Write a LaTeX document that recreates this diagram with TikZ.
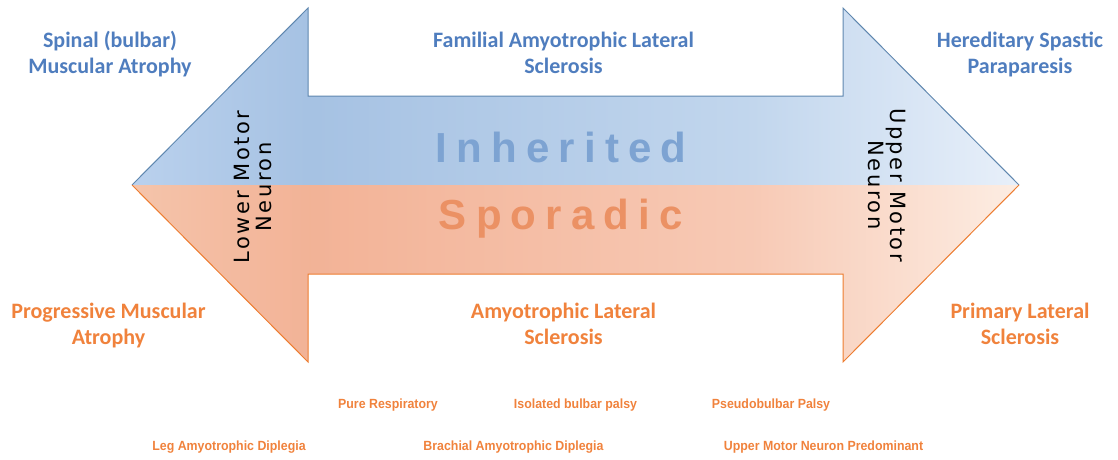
\documentclass[tikz,border=0pt]{standalone}
\usepackage{fontspec}
\setmainfont{Carlito}
\newfontfamily\rotfont[LetterSpace=12]{DejaVu Sans}
\newfontfamily\bigfont[LetterSpace=22]{Liberation Sans}
\newfontfamily\smallfont{Liberation Sans}
\definecolor{lblue}{RGB}{79,125,190}
\definecolor{lorange}{RGB}{240,130,60}
\definecolor{inhcol}{RGB}{125,163,210}
\definecolor{spocol}{RGB}{235,145,100}
\definecolor{blueedge}{RGB}{95,135,175}
\definecolor{orangeedge}{RGB}{237,125,49}
\pgfdeclarehorizontalshading{blueshade}{100bp}{rgb(0bp)=(0.73,0.82,0.93); rgb(25bp)=(0.73,0.82,0.93); rgb(35bp)=(0.65,0.76,0.89); rgb(60bp)=(0.76,0.84,0.93); rgb(75bp)=(0.91,0.94,0.98); rgb(100bp)=(0.91,0.94,0.98)}
\pgfdeclarehorizontalshading{orangeshade}{100bp}{rgb(0bp)=(0.96,0.77,0.67); rgb(25bp)=(0.96,0.77,0.67); rgb(35bp)=(0.95,0.70,0.59); rgb(60bp)=(0.97,0.79,0.71); rgb(75bp)=(0.99,0.93,0.89); rgb(100bp)=(0.99,0.93,0.89)}
\tikzset{
  lab/.style={align=center, inner sep=0pt, font=\fontsize{22}{26}\selectfont\bfseries},
  bigtxt/.style={inner sep=0pt, anchor=base, font=\bigfont\bfseries\fontsize{42}{48}\selectfont},
  rottxt/.style={align=center, inner sep=0pt, text=black, font=\rotfont\fontsize{21}{22}\selectfont},
  subtxt/.style={inner sep=0pt, anchor=base, text=lorange, font=\smallfont\bfseries\fontsize{13.3}{15}\selectfont},
  edge/.style={line width=1pt, line join=miter}
}
\newcommand{\narrow}[1]{\scalebox{0.93}[1]{#1}}
\begin{document}
\begin{tikzpicture}[x=1pt,y=-1pt]
\useasboundingbox (0,0) rectangle (1118,460);
% arrow geometry
\coordinate (lt) at (132,185);
\coordinate (lht) at (308,8);
\coordinate (lst) at (308,96);
\coordinate (rst) at (843,96);
\coordinate (rht) at (843,8);
\coordinate (rt) at (1019,185);
\coordinate (lhb) at (308,362);
\coordinate (lsb) at (308,274);
\coordinate (rsb) at (843,274);
\coordinate (rhb) at (843,362);
% fills
\shade[shading=blueshade] (lt) -- (lht) -- (lst) -- (rst) -- (rht) -- (rt) -- cycle;
\shade[shading=orangeshade] (lt) -- (lhb) -- (lsb) -- (rsb) -- (rhb) -- (rt) -- cycle;
% outlines
\draw[edge, blueedge] (lt) -- (lht) -- (lst) -- (rst) -- (rht) -- (rt);
\draw[edge, orangeedge] (lt) -- (lhb) -- (lsb) -- (rsb) -- (rhb) -- (rt);
% big words
\node[bigtxt, text=inhcol] (inh) at (561,162) {Inherited};
\node[bigtxt, text=spocol] (spo) at (561,229) {Sporadic};
% rotated
\node[rottxt, rotate=90] (lmn) at (253,187) {Lower Motor\\Neuron};
\node[rottxt, rotate=-90] (umn) at (886.5,185) {Upper Motor\\Neuron};
% labels top
\node[lab, text=lblue] (sma) at (110,55.8) {\strut Spinal (bulbar)\\\strut Muscular Atrophy};
\node[lab, text=lblue] (fals) at (563.5,55.8) {\strut Familial Amyotrophic Lateral\\\strut Sclerosis};
\node[lab, text=lblue] (hsp) at (1020,55.8) {\strut Hereditary Spastic\\\strut Paraparesis};
% labels bottom
\node[lab, text=lorange] (pma) at (108.5,326.3) {\strut Progressive Muscular\\\strut Atrophy};
\node[lab, text=lorange] (als) at (563.5,326.3) {\strut Amyotrophic Lateral\\\strut Sclerosis};
\node[lab, text=lorange] (pls) at (1020,326.3) {\strut Primary Lateral\\\strut Sclerosis};
% subtypes
\node[subtxt] (pr) at (388,408) {\narrow{Pure Respiratory}};
\node[subtxt] (ibp) at (575.5,408) {\narrow{Isolated bulbar palsy}};
\node[subtxt] (pbp) at (771,408) {\narrow{Pseudobulbar Palsy}};
\node[subtxt] (lad) at (229,450) {\narrow{Leg Amyotrophic Diplegia}};
\node[subtxt] (bad) at (513.5,450) {\narrow{Brachial Amyotrophic Diplegia}};
\node[subtxt] (umnp) at (823.5,450) {\narrow{Upper Motor Neuron Predominant}};
\end{tikzpicture}
\end{document}
